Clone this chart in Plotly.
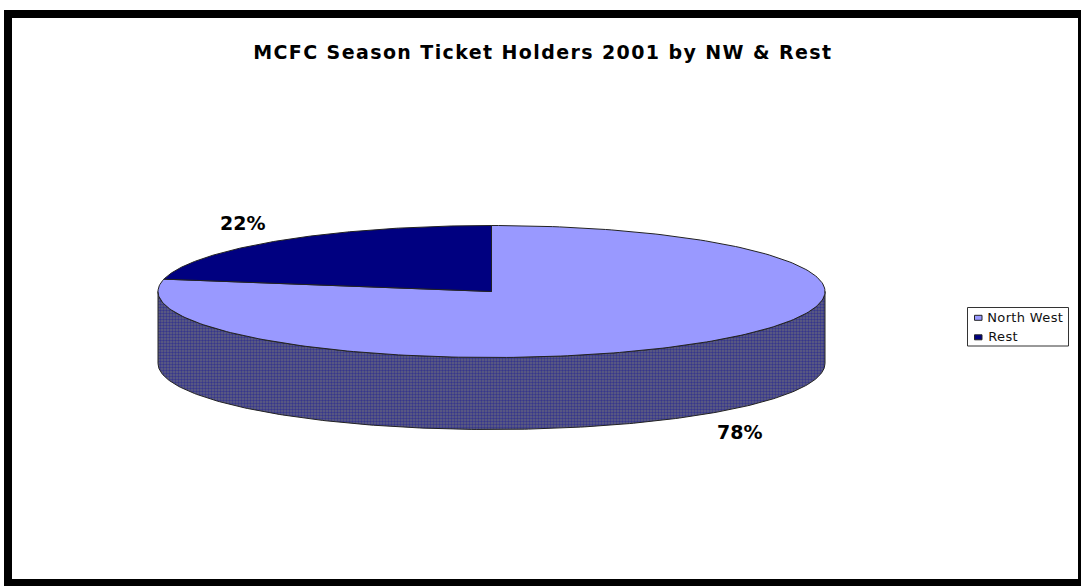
import numpy as np
import plotly.graph_objects as go

categories = ["North West", "Rest"]
values = [78, 22]
colors = ["#9999FF", "#000080"]
title_text = "MCFC Season Ticket Holders 2001 by NW & Rest"

W, H = 1081, 586
CX, CY, RX, RY, DEPTH = 491.5, 291.5, 333.5, 66.0, 72.0

def px_x(p):
    return (p - CX) / RX

def px_y(p):
    return (CY - p) / RY

def arc(a0, a1, n=240):
    t = np.radians(np.linspace(a0, a1, n))
    return np.sin(t), np.cos(t)

fig = go.Figure()

# side wall: front half of the disc, extruded downward
sx, sy = arc(90, 270)
d = DEPTH / RY
fig.add_trace(go.Scatter(
    x=np.concatenate([sx, sx[::-1], sx[:1]]),
    y=np.concatenate([sy - d, sy[::-1], sy[:1] - d]),
    mode="lines", fill="toself", fillcolor="#50507F",
    fillpattern=dict(shape=".", bgcolor="#62627F", fgcolor="#36368C", size=3, solidity=0.5, fillmode="replace"),
    line=dict(color="#222222", width=1), hoverinfo="skip", showlegend=False))

start = 0.0
for name, v, c in zip(categories, values, colors):
    end = start + 360 * v / sum(values)
    ax, ay = arc(start, end)
    fig.add_trace(go.Scatter(
        x=np.concatenate([[0], ax, [0]]), y=np.concatenate([[0], ay, [0]]),
        mode="lines", fill="toself", fillcolor=c, name=name,
        line=dict(color="#222222", width=1), showlegend=False))
    start = end

# percent labels
label_pos = [(739.5, 432), (242.5, 223)]
annotations = [dict(x=px_x(x), y=px_y(y), xref="x", yref="y", text=f"<b>{v}%</b>", showarrow=False,
                    xanchor="center", yanchor="middle",
                    font=dict(family="DejaVu Sans", size=19, color="black"))
               for v, (x, y) in zip(values, label_pos)]
annotations.append(dict(x=543 / W, y=1 - 52 / H, xref="paper", yref="paper", showarrow=False,
                        xanchor="center", yanchor="middle", name="title",
                        text=f"<b>{title_text.replace('&', '&amp;')}</b>",
                        font=dict(family="DejaVu Sans", size=19, color="black")))

shapes = [
    dict(type="rect", xref="paper", yref="paper", x0=8 / W, x1=1082 / W, y0=1 - 14 / H, y1=1 - 583 / H,
         line=dict(color="black", width=8), fillcolor="rgba(0,0,0,0)"),
    dict(type="rect", xref="paper", yref="paper", x0=967.5 / W, x1=1068.5 / W, y0=1 - 307.5 / H, y1=1 - 346 / H,
         line=dict(color="#333333", width=1), fillcolor="white"),
]
for i, (name, c) in enumerate(zip(categories, colors)):
    yc = 317.8 + i * 19.5
    shapes.append(dict(type="rect", xref="paper", yref="paper", x0=974.5 / W, x1=982 / W,
                       y0=1 - (yc - 2.5) / H, y1=1 - (yc + 2.5) / H,
                       line=dict(color="#222222", width=1), fillcolor=c))
    annotations.append(dict(x=986.5 / W, y=1 - (yc - 0.5) / H, xref="paper", yref="paper", xanchor="left",
                            yanchor="middle", showarrow=False, text=name,
                            font=dict(family="DejaVu Sans", size=13, color="#111111")))

fig.update_layout(
    width=W, height=H, autosize=False, margin=dict(l=0, r=0, t=0, b=0),
    paper_bgcolor="white", plot_bgcolor="white", showlegend=False,
    xaxis=dict(visible=False, range=[px_x(0), px_x(W)], fixedrange=True),
    yaxis=dict(visible=False, range=[px_y(H), px_y(0)], fixedrange=True),
    shapes=shapes, annotations=annotations)

post = """
document.body.style.margin='0';document.body.style.overflow='hidden';
document.querySelectorAll('.annotation-text').forEach(function(t){
  var s=t.textContent;
  if(s.indexOf('MCFC')===0){t.style.letterSpacing='1.4px';}
  else if(s==='North West'||s==='Rest'){t.style.letterSpacing='0.35px';}
});
"""
fig.write_html("out.html", config={"displayModeBar": False}, post_script=post)
